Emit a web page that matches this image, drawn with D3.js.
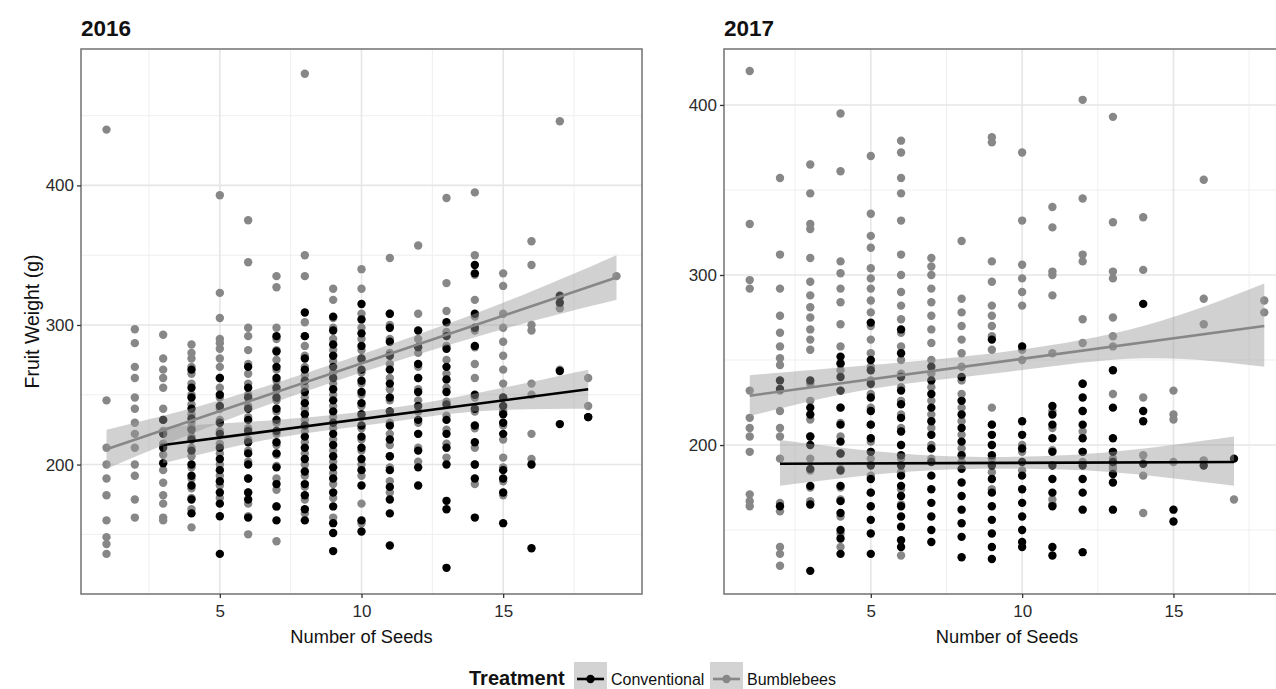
<!DOCTYPE html>
<html><head><meta charset="utf-8">
<script src="https://cdn.jsdelivr.net/npm/d3@7"></script>
<style>
html,body{margin:0;padding:0;background:#fff;}
svg{display:block;font-family:"Liberation Sans",Arial,Helvetica,sans-serif;}
</style>
</head><body>
<svg id="chart" width="1276" height="689"></svg>
<script>
// ---------------- DATA ----------------
const treatments = ["Conventional", "Bumblebees"];
const years = ["2016", "2017"];
const xTicks = [5, 10, 15];
const yTicks = [200, 300, 400];
const xAxisTitle = "Number of Seeds";
const yAxisTitle = "Fruit Weight (g)";
const legendTitle = "Treatment";

// [seeds, [fruit weights...]]
const bumble2016 = [
  [1, [440, 246, 212, 200, 190, 178, 160, 148, 143, 136]],
  [2, [297, 287, 270, 262, 248, 240, 230, 222, 212, 200, 192, 175, 162]],
  [3, [293, 276, 268, 262, 255, 240, 232, 224, 215, 207, 196, 187, 178, 172, 162, 160]],
  [4, [286, 280, 276, 270, 265, 258, 250, 243, 236, 230, 226, 220, 212, 206, 198, 190, 183, 176, 168, 155]],
  [5, [393, 323, 305, 290, 287, 283, 276, 270, 262, 255, 248, 240, 232, 224, 215, 208, 200, 192, 185, 176]],
  [6, [375, 345, 298, 292, 282, 272, 265, 258, 250, 242, 234, 226, 218, 210, 202, 190, 180, 172, 163, 150]],
  [7, [335, 327, 298, 290, 282, 275, 268, 260, 253, 246, 238, 230, 222, 214, 207, 199, 190, 182, 170, 145]],
  [8, [480, 350, 335, 302, 292, 285, 278, 270, 264, 256, 248, 240, 232, 224, 216, 208, 200, 192, 184, 175, 165]],
  [9, [326, 318, 305, 298, 290, 282, 274, 266, 258, 250, 242, 234, 226, 218, 210, 202, 194, 186, 176, 162]],
  [10, [340, 326, 308, 298, 290, 282, 275, 266, 258, 250, 242, 234, 226, 218, 210, 200, 192, 172, 158]],
  [11, [348, 308, 300, 290, 280, 272, 262, 254, 246, 238, 230, 222, 214, 206, 198, 188, 180]],
  [12, [357, 308, 290, 280, 270, 262, 254, 246, 238, 230, 222, 212, 202]],
  [13, [391, 330, 310, 295, 285, 275, 265, 255, 245, 235, 225, 215, 205]],
  [14, [395, 350, 336, 318, 306, 296, 284, 272, 262, 248, 238, 226, 212, 200, 186]],
  [15, [337, 328, 308, 298, 288, 278, 268, 258, 248, 238, 228, 218, 205, 198, 188, 178]],
  [16, [360, 343, 300, 296, 258, 250, 222, 204]],
  [17, [446, 320, 312, 268]],
  [18, [262, 242]],
  [19, [335]]
];
const conv2016 = [
  [3, [232, 222, 212, 201]],
  [4, [268, 255, 248, 240, 233, 225, 218, 210, 200, 192, 185, 175, 165]],
  [5, [262, 250, 242, 230, 222, 212, 204, 196, 188, 180, 172, 163, 136]],
  [6, [270, 255, 248, 240, 232, 224, 216, 208, 200, 190, 180, 175, 162]],
  [7, [292, 281, 270, 262, 255, 248, 240, 232, 224, 216, 208, 198, 186, 170, 160]],
  [8, [309, 292, 276, 268, 260, 252, 244, 236, 228, 220, 212, 204, 195, 186, 178, 168, 160]],
  [9, [306, 296, 286, 278, 270, 262, 254, 246, 238, 230, 222, 214, 206, 198, 190, 180, 170, 158, 151, 138]],
  [10, [315, 304, 294, 285, 276, 268, 260, 252, 244, 236, 228, 220, 212, 204, 196, 185, 160, 152]],
  [11, [308, 298, 288, 278, 268, 258, 248, 238, 228, 218, 206, 196, 184, 175, 165, 142]],
  [12, [296, 284, 272, 262, 252, 242, 232, 222, 210, 198, 185]],
  [13, [302, 292, 283, 270, 261, 252, 243, 232, 222, 212, 200, 174, 168, 126]],
  [14, [343, 337, 308, 298, 285, 250, 240, 228, 216, 200, 190, 162]],
  [15, [248, 242, 236, 230, 222, 196, 190, 180, 158]],
  [16, [200, 140]],
  [17, [321, 316, 267, 229]],
  [18, [234, 234]]
];
const bumble2017 = [
  [1, [420, 330, 297, 292, 232, 216, 210, 205, 196, 171, 167, 164]],
  [2, [357, 312, 292, 276, 266, 258, 251, 247, 232, 220, 210, 205, 192, 166, 161, 140, 136, 129]],
  [3, [365, 348, 330, 327, 310, 296, 288, 281, 275, 268, 262, 256, 236, 226, 215, 205, 192, 185, 175, 167]],
  [4, [395, 361, 308, 301, 292, 284, 271, 258, 248, 244, 232, 222, 213, 205, 195, 186, 175, 168, 158, 148, 140]],
  [5, [370, 336, 323, 316, 304, 298, 292, 285, 278, 270, 262, 254, 246, 238, 230, 222, 212, 202, 192, 182, 172]],
  [6, [379, 372, 357, 348, 332, 312, 300, 290, 282, 274, 266, 258, 250, 242, 234, 226, 218, 210, 200, 192, 184, 174, 165, 135]],
  [7, [310, 305, 300, 292, 284, 276, 268, 260, 250, 242, 234, 226, 218, 210, 200, 192]],
  [8, [320, 286, 278, 270, 262, 254, 246, 238, 230, 222, 214, 206, 198, 190]],
  [9, [381, 378, 308, 296, 282, 276, 270, 264, 256, 222, 212, 200, 192, 184, 174]],
  [10, [372, 332, 306, 298, 290, 282, 256, 250, 200, 196, 185]],
  [11, [340, 328, 302, 300, 288, 254, 220, 210, 197, 168, 165]],
  [12, [403, 345, 312, 308, 274, 260, 236, 220, 208, 196, 190]],
  [13, [393, 331, 302, 298, 275, 264, 258, 230, 196, 192, 188, 186]],
  [14, [334, 303, 228, 194, 182, 160]],
  [15, [232, 218, 215, 190]],
  [16, [356, 286, 271, 191]],
  [17, [168]],
  [18, [285, 278]]
];
const conv2017 = [
  [2, [238, 233, 164]],
  [3, [238, 222, 218, 205, 200, 186, 176, 165, 126]],
  [4, [252, 248, 240, 232, 222, 212, 202, 195, 185, 176, 167, 160, 150, 145, 136]],
  [5, [272, 250, 244, 236, 228, 220, 212, 204, 196, 188, 180, 172, 164, 156, 148, 136]],
  [6, [268, 254, 240, 232, 224, 216, 208, 200, 194, 188, 182, 176, 170, 164, 158, 152, 144, 140]],
  [7, [246, 238, 230, 222, 214, 206, 198, 190, 182, 174, 166, 158, 150, 143]],
  [8, [240, 226, 218, 210, 202, 194, 186, 178, 170, 162, 154, 146, 134]],
  [9, [262, 212, 206, 200, 194, 188, 180, 172, 164, 156, 148, 140, 133]],
  [10, [258, 214, 206, 198, 190, 182, 174, 166, 158, 150, 143, 140]],
  [11, [223, 218, 212, 204, 196, 188, 180, 172, 164, 140, 135]],
  [12, [236, 228, 220, 212, 204, 196, 188, 180, 172, 162, 137]],
  [13, [244, 222, 204, 196, 190, 183, 178, 162]],
  [14, [283, 220, 214, 189]],
  [15, [162, 155]],
  [16, [188]],
  [17, [192]]
];

// fitted lines: x = seeds, y = weight
const fitConv2016   = { x: [3, 18], y: [214, 254] };
const fitBumble2016 = { x: [1, 19], y: [211, 334] };
const fitConv2017   = { x: [2, 17], y: [189, 190] };
const fitBumble2017 = { x: [1, 18], y: [229, 270] };

// confidence bands
const bandConv2016   = { x: [3, 7, 10.5, 14, 18], lo: [201, 219, 229, 238, 240], hi: [227, 232, 239, 251, 268] };
const bandBumble2016 = { x: [1, 5, 10, 15, 19],   lo: [197, 230, 266, 297, 318], hi: [225, 246, 279, 316, 350] };
const bandConv2017   = { x: [2, 6, 9.5, 13, 17],  lo: [176, 184, 186, 184, 176], hi: [203, 195, 193, 196, 205] };
const bandBumble2017 = { x: [1, 5, 9.5, 14, 18],  lo: [217, 233, 243, 251, 246], hi: [241, 247, 255, 270, 295] };

// ---------------- LAYOUT ----------------
const colors = { Conventional: "#000000", Bumblebees: "#878787" };
const panels = [
  { title: years[0], left: 81, right: 642, top: 49, bottom: 594,
    xDomain: [0.1, 19.9], yDomain: [107.25, 497.75],
    series: [
      { name: "Bumblebees", pts: bumble2016 },
      { name: "Conventional", pts: conv2016 }],
    smooth: [
      { name: "Conventional", fit: fitConv2016, band: bandConv2016 },
      { name: "Bumblebees", fit: fitBumble2016, band: bandBumble2016 }],
    yTitle: true },
  { title: years[1], left: 724, right: 1290, top: 49, bottom: 594,
    xDomain: [0.15, 18.85], yDomain: [112.4, 432.9],
    series: [
      { name: "Bumblebees", pts: bumble2017 },
      { name: "Conventional", pts: conv2017 }],
    smooth: [
      { name: "Conventional", fit: fitConv2017, band: bandConv2017 },
      { name: "Bumblebees", fit: fitBumble2017, band: bandBumble2017 }],
    yTitle: false }
];

const svg = d3.select("#chart");
const defs = svg.append("defs");

panels.forEach((p, i) => {
  const x = d3.scaleLinear().domain(p.xDomain).range([p.left, p.right]);
  const y = d3.scaleLinear().domain(p.yDomain).range([p.bottom, p.top]);
  const g = svg.append("g");
  const clipId = "clip" + i;
  defs.append("clipPath").attr("id", clipId).append("rect")
    .attr("x", p.left).attr("y", p.top)
    .attr("width", p.right - p.left).attr("height", p.bottom - p.top);

  const inner = g.append("g").attr("clip-path", `url(#${clipId})`);

  // minor grid
  const xMinor = xTicks.map(t => t - 2.5).concat([xTicks[xTicks.length - 1] + 2.5]);
  const yMinor = d3.range(150, 500, 100).filter(v => v > p.yDomain[0] && v < p.yDomain[1]);
  inner.selectAll(".xmin").data(xMinor).join("line")
    .attr("x1", d => x(d)).attr("x2", d => x(d)).attr("y1", p.top).attr("y2", p.bottom)
    .attr("stroke", "#efefef").attr("stroke-width", 1);
  inner.selectAll(".ymin").data(yMinor).join("line")
    .attr("y1", d => y(d)).attr("y2", d => y(d)).attr("x1", p.left).attr("x2", p.right)
    .attr("stroke", "#efefef").attr("stroke-width", 1);
  // major grid
  inner.selectAll(".xmaj").data(xTicks).join("line")
    .attr("x1", d => x(d)).attr("x2", d => x(d)).attr("y1", p.top).attr("y2", p.bottom)
    .attr("stroke", "#e6e6e6").attr("stroke-width", 1.6);
  inner.selectAll(".ymaj").data(yTicks).join("line")
    .attr("y1", d => y(d)).attr("y2", d => y(d)).attr("x1", p.left).attr("x2", p.right)
    .attr("stroke", "#e6e6e6").attr("stroke-width", 1.6);

  // points
  p.series.forEach(s => {
    const flat = s.pts.flatMap(([sx, vs]) => vs.map(v => ({ sx, v })));
    inner.append("g").selectAll("circle").data(flat).join("circle")
      .attr("cx", d => x(d.sx)).attr("cy", d => y(d.v)).attr("r", 4.2)
      .attr("fill", colors[s.name]);
  });

  // smooth bands and lines
  p.smooth.forEach(s => {
    const bd = s.band.x.map((bx, k) => ({ bx, lo: s.band.lo[k], hi: s.band.hi[k] }));
    const area = d3.area().x(d => x(d.bx)).y0(d => y(d.lo)).y1(d => y(d.hi)).curve(d3.curveNatural);
    inner.append("path").datum(bd).attr("d", area)
      .attr("fill", "#999999").attr("fill-opacity", 0.45);
    const ln = s.fit.x.map((fx, k) => ({ fx, fy: s.fit.y[k] }));
    inner.append("path").datum(ln)
      .attr("d", d3.line().x(d => x(d.fx)).y(d => y(d.fy)))
      .attr("fill", "none").attr("stroke", colors[s.name]).attr("stroke-width", 2.6);
  });

  // border
  g.append("rect").attr("x", p.left).attr("y", p.top)
    .attr("width", p.right - p.left).attr("height", p.bottom - p.top)
    .attr("fill", "none").attr("stroke", "#7a7a7a").attr("stroke-width", 1.6);

  // axes
  const ax = g.append("g").attr("transform", `translate(0,${p.bottom})`)
    .call(d3.axisBottom(x).tickValues(xTicks).tickSize(4).tickPadding(7));
  const ay = g.append("g").attr("transform", `translate(${p.left},0)`)
    .call(d3.axisLeft(y).tickValues(yTicks).tickSize(4).tickPadding(3));
  [ax, ay].forEach(a => {
    a.select(".domain").remove();
    a.selectAll(".tick line").attr("stroke", "#333").attr("stroke-width", 1.3);
    a.selectAll(".tick text").attr("fill", "#2b2b2b").style("font-size", "17px")
      .style("font-family", '"Liberation Sans",Arial,sans-serif');
  });

  // title
  g.append("text").attr("x", p.left).attr("y", 36)
    .attr("font-size", 22.5).attr("font-weight", "bold").attr("fill", "#111")
    .text(p.title);

  // x title
  g.append("text").attr("x", (p.left + p.right) / 2).attr("y", 643)
    .attr("text-anchor", "middle").attr("font-size", 18.3).attr("fill", "#111")
    .text(xAxisTitle);

  if (p.yTitle) {
    g.append("text")
      .attr("transform", `translate(39,${(p.top + p.bottom) / 2}) rotate(-90)`)
      .attr("text-anchor", "middle").attr("font-size", 19.5).attr("fill", "#111")
      .text(yAxisTitle);
  }
});

// ---------------- LEGEND ----------------
const lg = svg.append("g");
lg.append("text").attr("x", 469).attr("y", 685).attr("font-size", 20)
  .attr("font-weight", "bold").attr("fill", "#111").text(legendTitle);
const keyX = [574, 710];
const labX = [611, 747];
treatments.forEach((t, k) => {
  const kx = keyX[k];
  lg.append("rect").attr("x", kx).attr("y", 662).attr("width", 33).attr("height", 34)
    .attr("fill", "#d3d3d3");
  lg.append("line").attr("x1", kx + 3).attr("x2", kx + 30).attr("y1", 679).attr("y2", 679)
    .attr("stroke", colors[t]).attr("stroke-width", 2.6);
  lg.append("circle").attr("cx", kx + 16.5).attr("cy", 679).attr("r", 4.2).attr("fill", colors[t]);
  lg.append("text").attr("x", labX[k]).attr("y", 685).attr("font-size", 16)
    .attr("fill", "#111").text(t);
});
</script>
</body></html>
